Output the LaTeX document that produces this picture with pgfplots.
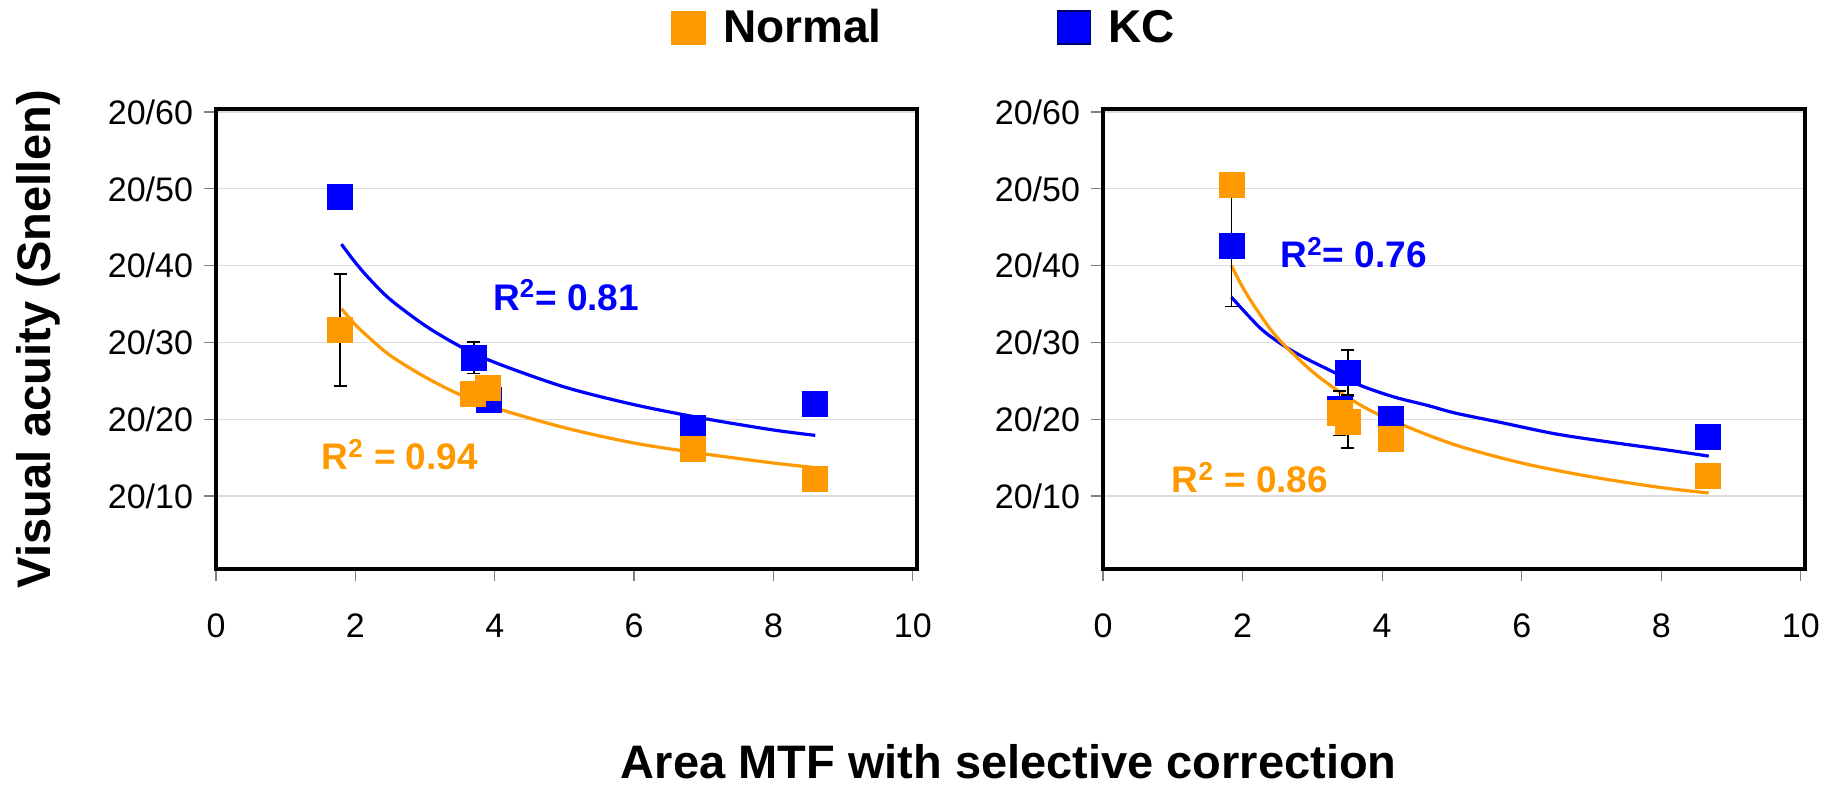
\documentclass[border=0pt]{standalone}
\usepackage{pgfplots}
\pgfplotsset{compat=1.18}
\usepackage{fontspec}
\setmainfont{Liberation Sans}
\definecolor{orng}{HTML}{FF9900}
\definecolor{blu}{HTML}{0000FF}
\definecolor{gridc}{HTML}{DCDCDC}
\pgfplotsset{
  panel/.style={
    scale only axis, height=230pt,
    xmin=0, xmax=10.06, ymin=0.5, ymax=60.4,
    xtick={0,2,...,10}, ytick={10,20,...,60},
    yticklabels={20/10,20/20,20/30,20/40,20/50,20/60},
    ymajorgrids, grid style={gridc, line width=0.6pt},
    axis line style={line width=2pt},
    tick align=outside, major tick length=6pt,
    xtick pos=bottom, ytick pos=left,
    tick style={gray, line width=0.6pt},
    ticklabel style={font=\fontsize{17}{20}\selectfont},
    /pgf/number format/assume math mode=true,
    xticklabel style={yshift=-13pt},
    yticklabel style={xshift=-2pt},
    clip=false,
  },
  fitline/.style={smooth, no marks, line width=1.6pt, forget plot},
  pts/.style={only marks, mark=square*, mark size=6.25pt, forget plot,
    error bars/.cd, y dir=both, y explicit,
    error bar style={black, line width=0.8pt},
    error mark options={rotate=90, black, line width=0.8pt, mark size=3.25pt},
    /pgfplots/.cd},
}
\begin{document}
\begin{tikzpicture}
\useasboundingbox (0,0) rectangle (919.5pt,392.5pt);
% ---------------- left panel ----------------
\begin{axis}[panel, width=350.5pt, at={(108pt,108pt)}, anchor=south west,
  ylabel={Visual acuity (Snellen)},
  ylabel style={font=\bfseries\fontsize{23.5}{28}\selectfont, inner sep=0pt, at={(axis description cs:-0.254,0.5)}, anchor=center},
  xlabel={Area MTF with selective correction},
  xlabel style={font=\bfseries\fontsize{23.5}{28}\selectfont, inner sep=0pt, at={(axis description cs:1.131,-0.419)}, anchor=center},
  legend columns=2,
  legend style={draw=none, fill=none, inner sep=0pt, at={(axis description cs:0.649,1.177)}, anchor=west,
    font=\bfseries\fontsize{23}{27}\selectfont,
    /tikz/every odd column/.append style={column sep=6.5pt},
    /tikz/every even column/.append style={column sep=85.5pt}},
]
\addlegendimage{legend image code/.code={\fill[orng] (0pt,-8.25pt) rectangle (17pt,8.25pt);}}
\addlegendentry{Normal}
\addlegendimage{legend image code/.code={\filldraw[fill=blu, draw=black!60!blue, line width=0.8pt] (0pt,-8.25pt) rectangle (16.5pt,8.25pt);}}
\addlegendentry{KC}
\addplot[fitline, blu] coordinates {(1.8,42.8) (2.0,40.4) (2.2,38.3) (2.5,35.6) (3.0,32.2) (3.5,29.5) (4.0,27.4) (5.0,24.2) (6.0,21.9) (7.0,20.1) (8.0,18.6) (8.6,17.9)};
\addplot[fitline, orng] coordinates {(1.8,34.4) (2.0,32.3) (2.2,30.6) (2.5,28.3) (3.0,25.5) (3.5,23.2) (4.0,21.5) (5.0,18.9) (6.0,16.9) (7.0,15.5) (8.0,14.3) (8.6,13.7)};
\addplot[mark options={fill=blu, draw=blu}, pts] coordinates {
 (1.78,48.9) +- (0,0)
 (3.70,28.0) +- (0,2.05)
 (3.92,22.5) +- (0,0)
 (6.84,18.9) +- (0,0)
 (8.60,22.0) +- (0,0)};
\addplot[mark options={fill=orng, draw=orng}, pts] coordinates {
 (1.78,31.6) +- (0,7.3)
 (3.68,23.3) +- (0,0)
 (3.90,24.1) +- (0,0)
 (6.84,16.2) +- (0,0)
 (8.60,12.2) +- (0,0)};
\node[anchor=base west, inner sep=0pt, text=blu, font=\bfseries\fontsize{18.5}{22}\selectfont] at (axis cs:3.97,34.2) {R\textsuperscript{2}= 0.81};
\node[anchor=base west, inner sep=0pt, text=orng, font=\bfseries\fontsize{18.5}{22}\selectfont] at (axis cs:1.51,13.4) {R\textsuperscript{2} = 0.94};
\end{axis}
% ---------------- right panel ----------------
\begin{axis}[panel, width=351pt, at={(551.5pt,108pt)}, anchor=south west]
\addplot[fitline, blu] coordinates {(1.84,35.9) (2.25,31.9) (2.57,29.7) (2.89,28.0) (3.29,26.2) (3.69,24.4) (4.17,22.9) (4.65,21.8) (5.05,20.8) (5.69,19.6) (6.48,18.1) (7.28,17.0) (8.08,16.0) (8.68,15.2)};
\addplot[fitline, orng] coordinates {(1.84,40.0) (2.0,37.2) (2.2,34.3) (2.5,30.6) (3.0,26.2) (3.5,22.9) (4.0,20.4) (5.0,16.8) (6.0,14.3) (7.0,12.5) (8.0,11.1) (8.68,10.4)};
\addplot[mark options={fill=blu, draw=blu}, pts] coordinates {
 (1.84,42.6) +- (0,7.9)
 (3.39,21.3) +- (0,0)
 (3.51,26.0) +- (0,3.0)
 (4.13,20.1) +- (0,1.35)
 (8.67,17.7) +- (0,0)};
\addplot[mark options={fill=orng, draw=orng}, pts] coordinates {
 (1.84,50.5) +- (0,0)
 (3.39,20.8) +- (0,2.9)
 (3.51,19.7) +- (0,3.45)
 (4.13,17.5) +- (0,0)
 (8.67,12.6) +- (0,0)};
\node[anchor=base west, inner sep=0pt, text=blu, font=\bfseries\fontsize{18.5}{22}\selectfont] at (axis cs:2.54,39.7) {R\textsuperscript{2}= 0.76};
\node[anchor=base west, inner sep=0pt, text=orng, font=\bfseries\fontsize{18.5}{22}\selectfont] at (axis cs:0.98,10.4) {R\textsuperscript{2} = 0.86};
\end{axis}
\end{tikzpicture}
\end{document}
